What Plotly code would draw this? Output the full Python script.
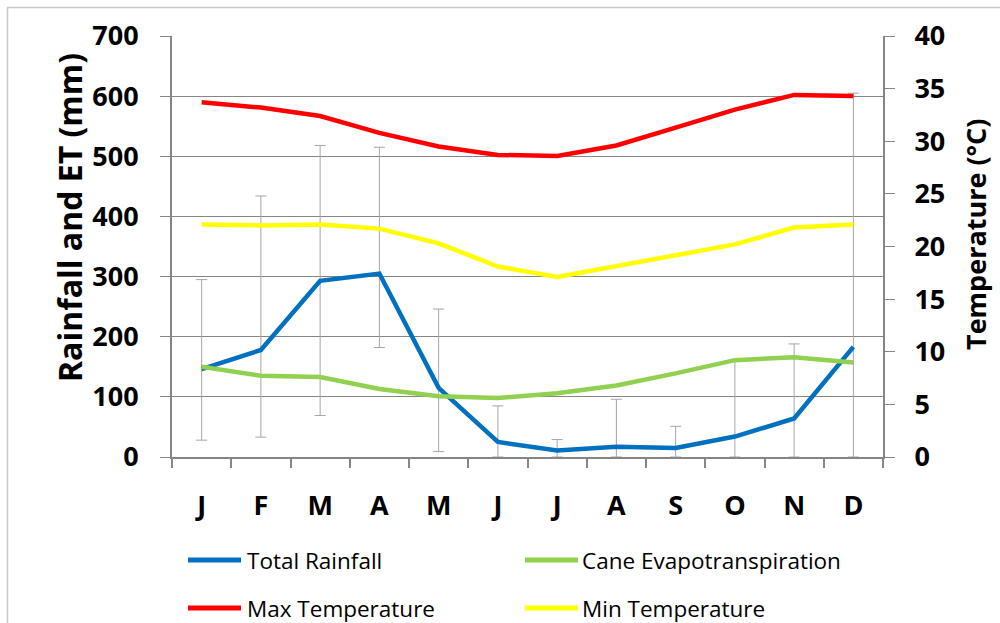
import plotly.graph_objects as go

# Monthly climate data
months = ["Jan", "Feb", "Mar", "Apr", "May", "Jun", "Jul", "Aug", "Sep", "Oct", "Nov", "Dec"]
month_labels = ["J", "F", "M", "A", "M", "J", "J", "A", "S", "O", "N", "D"]
total_rainfall = [146, 178, 293, 305, 115, 25, 11, 17, 15, 34, 64, 183]
rainfall_high = [295, 434, 518, 515, 246, 85, 29, 96, 51, 161, 188, 605]
rainfall_low = [28, 33, 69, 182, 9, 0, 0, 0, 0, 0, 0, 0]
cane_et = [150, 135, 133, 113, 101, 98, 106, 119, 139, 161, 166, 157]
max_temp = [33.7, 33.2, 32.4, 30.8, 29.5, 28.7, 28.6, 29.6, 31.3, 33.0, 34.4, 34.3]
min_temp = [22.1, 22.0, 22.1, 21.7, 20.3, 18.1, 17.1, 18.1, 19.1, 20.2, 21.8, 22.1]

left_ticks = list(range(0, 701, 100))
right_ticks = list(range(0, 41, 5))

BLUE = "#0070C0"
GREEN = "#92D050"
RED = "#FF0000"
YELLOW = "#FFFF00"
AXIS = "#868686"
FONT = "Open Sans"

W, H = 1000, 623
ML, MR, MT, MB = 172, 117, 36, 166
PW, PH = W - ML - MR, H - MT - MB


def px_x(x):
    return (x - ML) / PW


def px_y(y):
    return (H - MB - y) / PH


x = list(range(len(months)))
err_plus = [h - v for h, v in zip(rainfall_high, total_rainfall)]
err_minus = [v - l for v, l in zip(total_rainfall, rainfall_low)]

fig = go.Figure()

# Rainfall range bars (drawn first so the lines sit on top)
fig.add_trace(go.Scatter(
    x=x, y=total_rainfall, mode="markers",
    marker=dict(size=1, color="rgba(0,0,0,0)"),
    error_y=dict(type="data", symmetric=False, array=err_plus, arrayminus=err_minus,
                 color="#A6A6A6", thickness=1, width=5.5),
    hoverinfo="skip", showlegend=False,
))

series = [
    ("Total Rainfall", total_rainfall, BLUE, "y"),
    ("Cane Evapotranspiration", cane_et, GREEN, "y"),
    ("Max Temperature", max_temp, RED, "y2"),
    ("Min Temperature", min_temp, YELLOW, "y2"),
]
for name, vals, color, axis in series:
    fig.add_trace(go.Scatter(
        x=x, y=vals, name=name, mode="lines", yaxis=axis,
        line=dict(color=color, width=4.5), showlegend=False,
        customdata=months, hovertemplate="%{customdata}: %{y}<extra>" + name + "</extra>",
    ))

tick_font = dict(family=FONT, size=27, color="black", weight="bold")

fig.update_layout(
    width=W, height=H,
    margin=dict(l=ML, r=MR, t=MT, b=MB),
    paper_bgcolor="white", plot_bgcolor="white",
    xaxis=dict(
        range=[-0.5, 11.5], tickmode="array", tickvals=x, ticktext=month_labels,
        ticks="", showgrid=False, zeroline=False,
        showline=True, linecolor=AXIS, linewidth=2,
        tickfont=dict(family=FONT, size=27, color="black", weight="bold"),
        ticklabelstandoff=24,
        minor=dict(tickmode="array", tickvals=[i - 0.5 for i in range(13)],
                   ticks="outside", ticklen=9, tickcolor=AXIS, tickwidth=1.5,
                   showgrid=False),
    ),
    yaxis=dict(
        range=[0, 700], tickmode="array", tickvals=left_ticks,
        showgrid=True, gridcolor=AXIS, gridwidth=1, zeroline=False,
        showline=True, linecolor=AXIS, linewidth=2,
        ticks="outside", ticklen=10, tickcolor=AXIS, tickwidth=1,
        tickfont=tick_font, ticklabelstandoff=16,
    ),
    yaxis2=dict(
        range=[0, 40], tickmode="array", tickvals=right_ticks,
        overlaying="y", side="right", showgrid=False, zeroline=False,
        showline=True, linecolor=AXIS, linewidth=2,
        ticks="outside", ticklen=10, tickcolor=AXIS, tickwidth=1,
        tickfont=tick_font, ticklabelstandoff=14,
    ),
    showlegend=False,
)

# Axis titles
fig.add_annotation(text="Rainfall and ET (mm)", textangle=-90, showarrow=False,
                   xref="paper", yref="paper", x=px_x(69), y=px_y(218),
                   xanchor="center", yanchor="middle",
                   font=dict(family=FONT, size=32, color="black", weight="bold"))
fig.add_annotation(text="Temperature (°C)", textangle=-90, showarrow=False,
                   xref="paper", yref="paper", x=px_x(975), y=px_y(234),
                   xanchor="center", yanchor="middle",
                   font=dict(family=FONT, size=27, color="black", weight="bold"))

# Legend: two rows by two columns
legend_cols = [(188, 241, 245), (525, 578, 580)]
legend_rows = [560, 608]
for i, (name, _, color, _) in enumerate(series):
    lx0, lx1, tx = legend_cols[i % 2]
    ly = legend_rows[i // 2]
    fig.add_shape(type="line", xref="paper", yref="paper",
                  x0=px_x(lx0), x1=px_x(lx1), y0=px_y(ly), y1=px_y(ly),
                  line=dict(color=color, width=5))
    fig.add_annotation(text=name, showarrow=False, xref="paper", yref="paper",
                       x=px_x(tx), y=px_y(ly), xanchor="left", yanchor="middle",
                       font=dict(family=FONT, size=22.5, color="black"))

# Outer chart frame
fig.add_shape(type="rect", xref="paper", yref="paper",
              x0=px_x(7.5), x1=px_x(1010), y0=px_y(640), y1=px_y(7.5),
              line=dict(color="#C8C8C8", width=1.5), layer="below")

fig.write_html("out.html")
